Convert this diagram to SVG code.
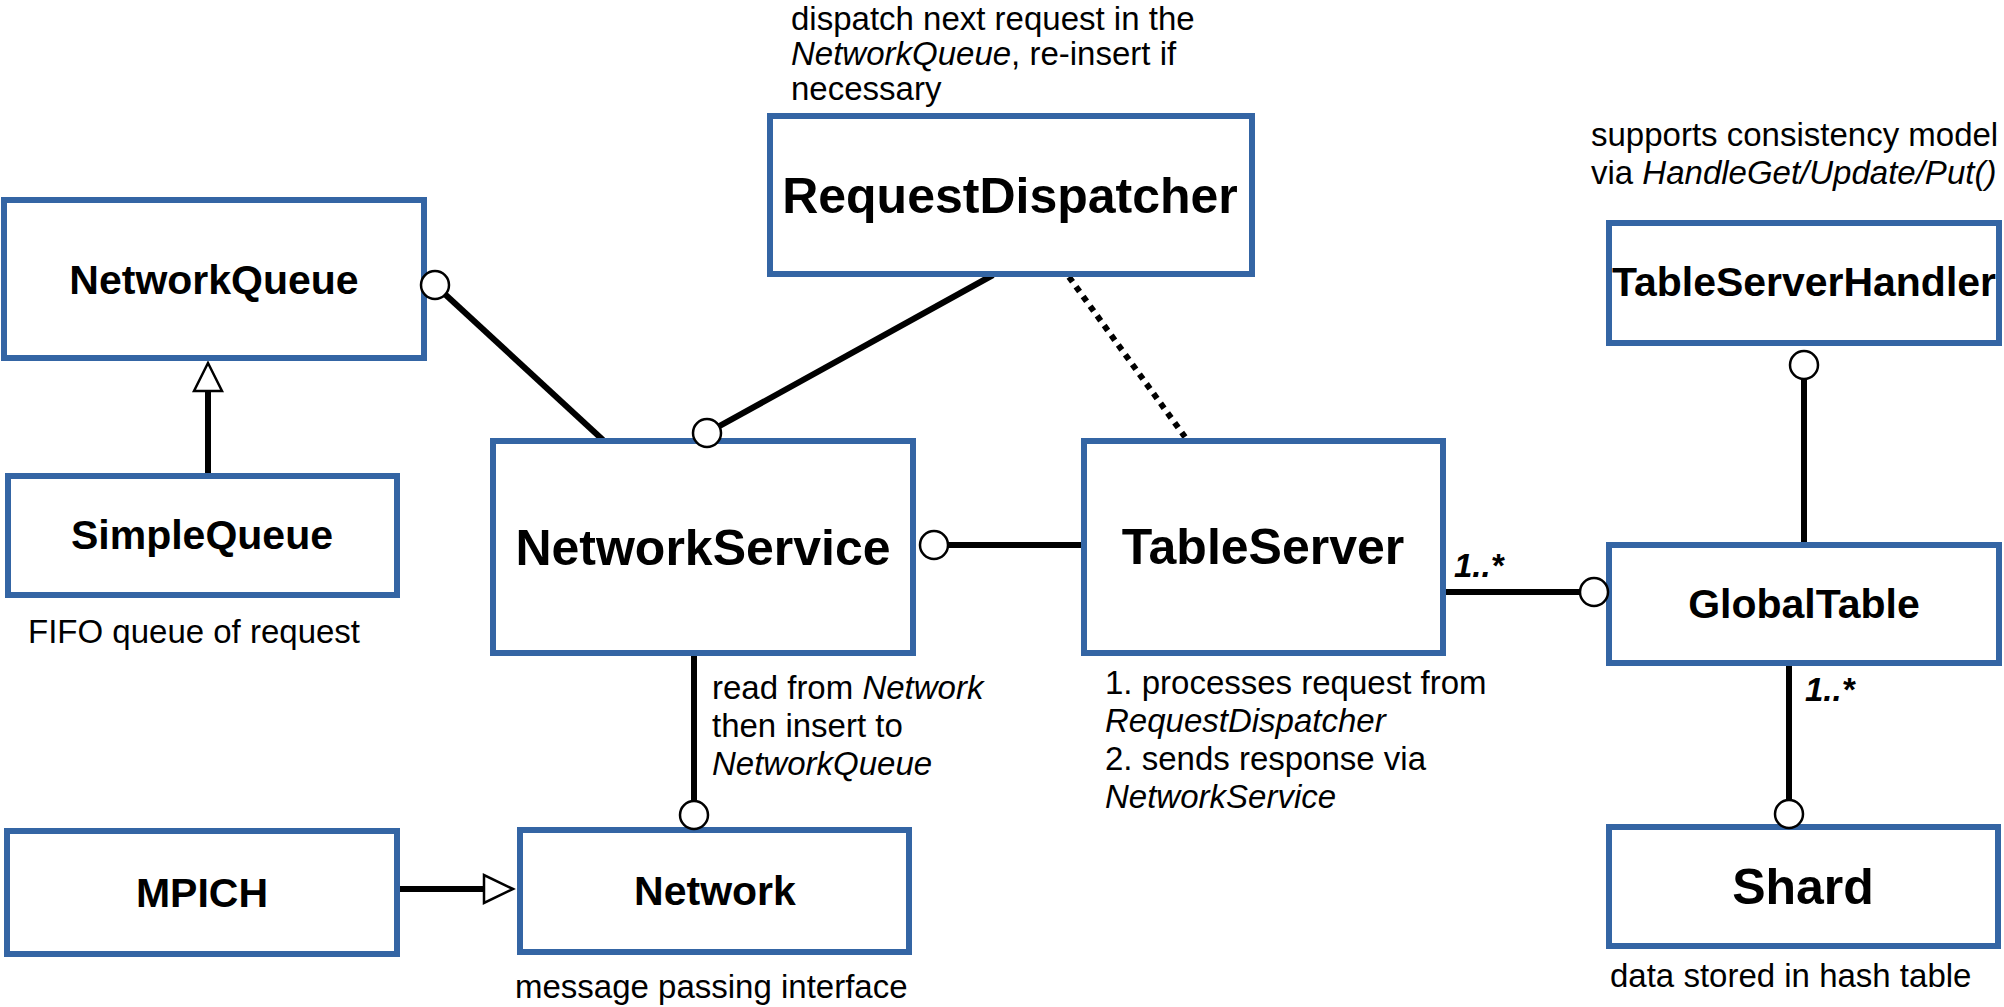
<svg xmlns="http://www.w3.org/2000/svg" width="2004" height="1007" viewBox="0 0 2004 1007">
<style>
.box{fill:#fff;stroke:#3465a4;stroke-width:6}
.t{font-family:"Liberation Sans",Arial,sans-serif;font-weight:bold;text-anchor:middle;fill:#000}
.big{font-size:50px}
.sm{font-size:41px}
.n{font-family:"Liberation Sans",Arial,sans-serif;font-size:33px;fill:#000}
.mul{font-family:"Liberation Sans",Arial,sans-serif;font-size:33px;font-weight:bold;font-style:italic;fill:#000}
.ln{stroke:#000;stroke-width:6;fill:none}
.ball{fill:#fff;stroke:#000;stroke-width:2.5}
.tri{fill:#fff;stroke:#000;stroke-width:2.5}
</style>
<rect width="2004" height="1007" fill="#fff"/>
<g id="connectors">
<line class="ln" x1="445.3" y1="294.5" x2="603" y2="440"/>
<line class="ln" x1="719.3" y1="426.2" x2="993" y2="275"/>
<line class="ln" x1="1069" y1="277" x2="1185" y2="437" stroke-dasharray="6 6"/>
<line class="ln" x1="208" y1="473" x2="208" y2="391"/>
<polygon class="tri" points="208,363 222,391 194,391"/>
<line class="ln" x1="948" y1="545" x2="1081" y2="545"/>
<line class="ln" x1="694" y1="656" x2="694" y2="801"/>
<line class="ln" x1="397" y1="889" x2="485" y2="889"/>
<polygon class="tri" points="513,889 484,875 484,903"/>
<line class="ln" x1="1446" y1="592" x2="1580" y2="592"/>
<line class="ln" x1="1804" y1="379" x2="1804" y2="542"/>
<line class="ln" x1="1789" y1="666" x2="1789" y2="800"/>
</g>
<g id="NetworkQueue">
<rect class="box" x="4" y="200" width="420" height="158"/>
<text class="t sm" x="214" y="294">NetworkQueue</text>
</g>
<g id="SimpleQueue">
<rect class="box" x="8" y="476" width="389" height="119"/>
<text class="t sm" x="202" y="549">SimpleQueue</text>
<text class="n" x="28" y="643">FIFO queue of request</text>
</g>
<g id="RequestDispatcher">
<rect class="box" x="770" y="116" width="482" height="158"/>
<text class="t big" x="1010" y="213">RequestDispatcher</text>
<text class="n" x="791" y="30">dispatch next request in the</text>
<text class="n" x="791" y="65"><tspan font-style="italic">NetworkQueue</tspan>, re-insert if</text>
<text class="n" x="791" y="100">necessary</text>
</g>
<g id="NetworkService">
<rect class="box" x="493" y="441" width="420" height="212"/>
<text class="t big" x="703" y="565">NetworkService</text>
<text class="n" x="712" y="699">read from <tspan font-style="italic">Network</tspan></text>
<text class="n" x="712" y="737">then insert to</text>
<text class="n" x="712" y="775" font-style="italic">NetworkQueue</text>
</g>
<g id="TableServer">
<rect class="box" x="1084" y="441" width="359" height="212"/>
<text class="t big" x="1263" y="564">TableServer</text>
<text class="n" x="1105" y="694">1. processes request from</text>
<text class="n" x="1105" y="732" font-style="italic">RequestDispatcher</text>
<text class="n" x="1105" y="770">2. sends response via</text>
<text class="n" x="1105" y="808" font-style="italic">NetworkService</text>
<text class="mul" x="1454" y="577">1..*</text>
</g>
<g id="TableServerHandler">
<rect class="box" x="1609" y="223" width="390" height="120"/>
<text class="t sm" x="1804" y="296" textLength="384" lengthAdjust="spacingAndGlyphs">TableServerHandler</text>
<text class="n" x="1591" y="146">supports consistency model</text>
<text class="n" x="1591" y="184">via <tspan font-style="italic">HandleGet/Update/Put()</tspan></text>
</g>
<g id="GlobalTable">
<rect class="box" x="1609" y="545" width="390" height="118"/>
<text class="t sm" x="1804" y="618">GlobalTable</text>
<text class="mul" x="1805" y="701">1..*</text>
</g>
<g id="Shard">
<rect class="box" x="1609" y="827" width="389" height="119"/>
<text class="t big" x="1803" y="904">Shard</text>
<text class="n" x="1610" y="987">data stored in hash table</text>
</g>
<g id="MPICH">
<rect class="box" x="7" y="831" width="390" height="123"/>
<text class="t sm" x="202" y="907">MPICH</text>
</g>
<g id="Network">
<rect class="box" x="520" y="830" width="389" height="122"/>
<text class="t sm" x="715" y="905">Network</text>
<text class="n" x="515" y="998">message passing interface</text>
</g>
<g id="balls">
<circle class="ball" cx="435" cy="285" r="14"/>
<circle class="ball" cx="707" cy="433" r="14"/>
<circle class="ball" cx="934" cy="545" r="14"/>
<circle class="ball" cx="694" cy="815" r="14"/>
<circle class="ball" cx="1594" cy="592" r="14"/>
<circle class="ball" cx="1804" cy="365" r="14"/>
<circle class="ball" cx="1789" cy="814" r="14"/>
</g>
</svg>
